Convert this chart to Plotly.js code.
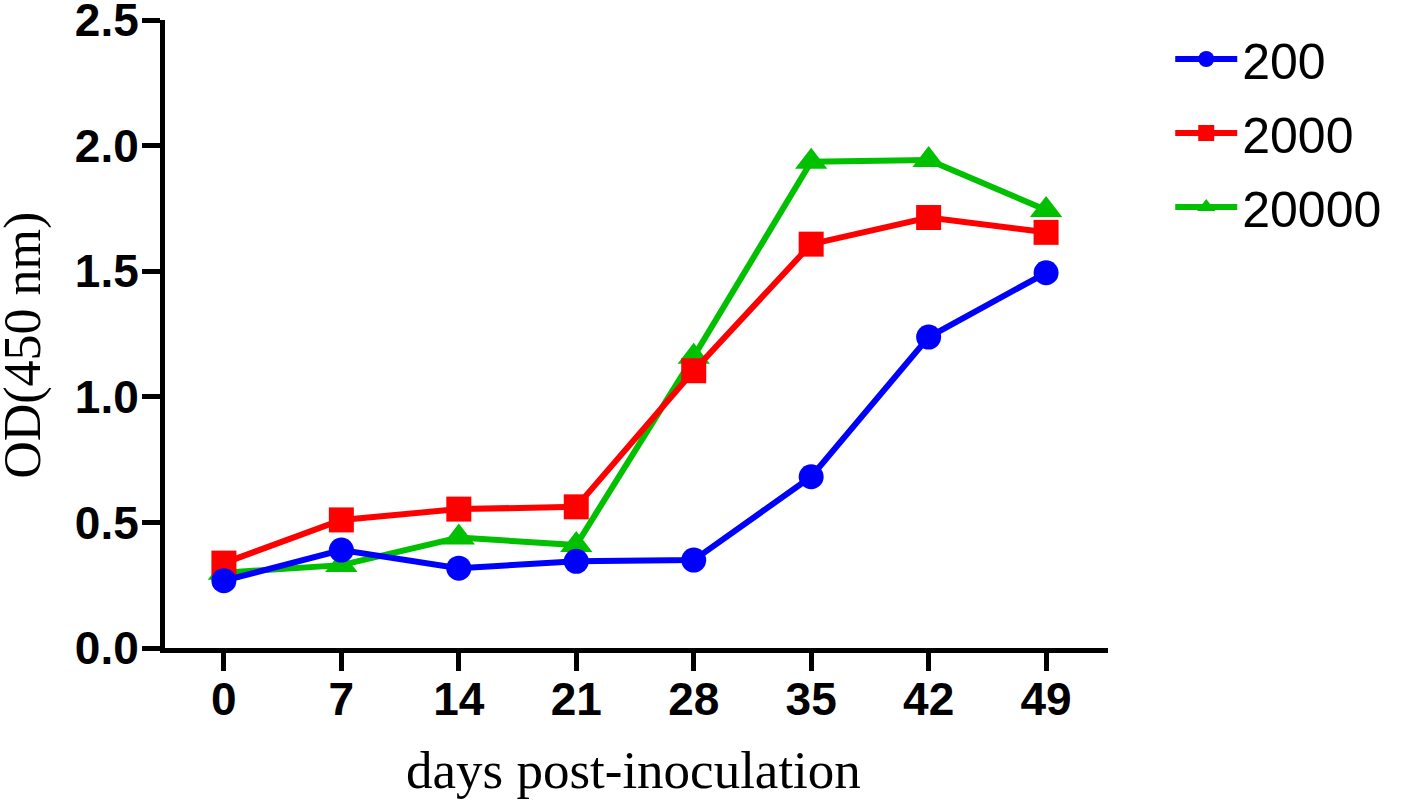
<!DOCTYPE html>
<html>
<head>
<meta charset="utf-8">
<script src="https://cdn.plot.ly/plotly-3.0.1.min.js"></script>
<style>html,body{margin:0;padding:0;background:#fff;}#chart{width:1418px;height:802px;}</style>
</head>
<body>
<div id="chart"></div>
<script>
const days = [0, 7, 14, 21, 28, 35, 42, 49];
const tickLabels = ['0', '7', '14', '21', '28', '35', '42', '49'];
const seriesNames = ['200', '2000', '20000'];
const od200 = [0.268, 0.39, 0.318, 0.345, 0.35, 0.682, 1.238, 1.494];
const od2000 = [0.338, 0.51, 0.553, 0.562, 1.104, 1.608, 1.714, 1.655];
const od20000 = [0.30, 0.33, 0.44, 0.41, 1.16, 1.936, 1.943, 1.744];
const yTicks = [0, 0.5, 1.0, 1.5, 2.0, 2.5];
const yTickLabels = ['0.0', '0.5', '1.0', '1.5', '2.0', '2.5'];

const colors = {'200': '#0000FF', '2000': '#FF0000', '20000': '#00C000'};
const symbols = {'200': 'circle', '2000': 'square', '20000': 'triangle-up'};
const sizes = {'200': 25, '2000': 25, '20000': 28};
const ranks = {'200': 1, '2000': 2, '20000': 3};

function mk(name, y) {
  return {
    x: days, y: y, name: name, type: 'scatter', mode: 'lines+markers',
    legendgroup: name, legendrank: ranks[name],
    line: {color: colors[name], width: 6},
    marker: {color: colors[name], symbol: symbols[name], size: sizes[name]}
  };
}
const data = [mk(seriesNames[2], od20000), mk(seriesNames[1], od2000), mk(seriesNames[0], od200)];

const tickFont = {family: 'Arial, "Liberation Sans", sans-serif', size: 46, color: '#000', weight: 'bold'};
const titleFont = {family: '"Times New Roman", "Liberation Serif", serif', size: 53, color: '#000'};

const layout = {
  width: 1418, height: 802,
  paper_bgcolor: '#fff', plot_bgcolor: '#fff',
  margin: {l: 165, r: 310, t: 20, b: 154},
  showlegend: true,
  legend: {
    x: 1.066, xanchor: 'left', y: 1.0, yanchor: 'top',
    traceorder: 'grouped', tracegroupgap: 6,
    itemwidth: 62,
    font: {family: 'Arial, "Liberation Sans", sans-serif', size: 50, color: '#000'},
    bgcolor: 'rgba(0,0,0,0)'
  },
  xaxis: {
    range: [-3.51, 52.69],
    tickvals: days, ticktext: tickLabels,
    showgrid: false, zeroline: false,
    showline: true, linecolor: '#000', linewidth: 5,
    ticks: 'outside', ticklen: 18, tickwidth: 5, tickcolor: '#000',
    tickfont: tickFont, ticklabelstandoff: -11,
    fixedrange: true
  },
  yaxis: {
    range: [0, 2.5005],
    tickvals: yTicks, ticktext: yTickLabels,
    showgrid: false, zeroline: false,
    showline: true, linecolor: '#000', linewidth: 5,
    ticks: 'outside', ticklen: 18, tickwidth: 5, tickcolor: '#000',
    tickfont: tickFont, ticklabelstandoff: -6, ticklabeloverflow: 'allow',
    fixedrange: true
  },
  annotations: [
    {text: 'days post-inoculation', xref: 'paper', yref: 'paper', x: 0.497, y: -0.195,
     xanchor: 'center', yanchor: 'middle', showarrow: false, font: titleFont},
    {text: 'OD(450 nm)', xref: 'paper', yref: 'paper', x: -0.150, y: 0.482, textangle: -90,
     xanchor: 'center', yanchor: 'middle', showarrow: false, font: Object.assign({}, titleFont, {size: 52})}
  ]
};

Plotly.newPlot('chart', data, layout, {displayModeBar: false, staticPlot: true});
</script>
</body>
</html>
